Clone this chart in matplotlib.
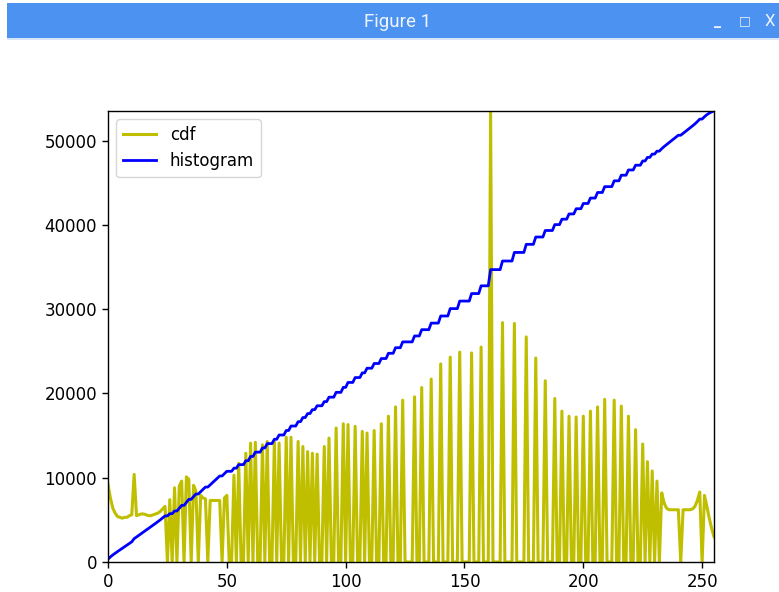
import numpy as np
import matplotlib.pyplot as plt
from matplotlib.patches import Rectangle

# grey level counts
head_counts = [9200, 7600, 6400, 5800, 5400, 5300, 5200, 5300, 5300, 5500,
               5600, 10400, 5500, 5600, 5700, 5700, 5600, 5500, 5500, 5600,
               5700, 5800, 6000, 6300, 6600]  # levels 0..24

spike_levels = [26, 28, 30, 31, 33, 34, 36, 37, 39, 40, 41, 43, 44, 45, 46, 47,
                49, 50, 53, 55, 58, 60, 62, 65, 67, 70, 72, 75, 77, 80, 82, 84,
                86, 88, 91, 93, 96, 99, 101, 104, 107, 109, 112, 115, 118, 121,
                124, 129, 132, 136, 140, 144, 148, 153, 157, 161, 166, 171, 176,
                180, 184, 188, 191, 194, 197, 200, 203, 206, 209, 213, 216, 219,
                222, 225, 227, 229, 231]
spike_counts = [7400, 8800, 9000, 9600, 10100, 9800, 9100, 8400, 7900, 7600,
                7500, 7300, 7300, 7300, 7300, 7300, 7600, 7900, 10300, 11700,
                12900, 14100, 14200, 13900, 14300, 14300, 14100, 14800, 14800,
                14300, 13700, 13100, 12900, 12800, 13700, 14700, 15900, 16400,
                16300, 16100, 15500, 15300, 15600, 16400, 17300, 18400, 19200,
                19600, 20700, 21700, 23500, 24300, 24900, 24800, 25500, 53500,
                28400, 28300, 26700, 24200, 21500, 19400, 17900, 17300, 17200,
                17300, 17900, 18400, 19300, 19200, 18500, 17300, 15700, 14000,
                11900, 10800, 9600]

tail_counts = [8200, 7000, 6400, 6200, 6200, 6200, 6200, 6200, 0, 6200, 6200,
               6200, 6200, 6300, 6600, 7300, 8300, 0, 7900, 6600, 5200, 4000,
               3000]  # levels 233..255

legend_labels = ["cdf", "histogram"]

hist = np.zeros(256)
hist[:len(head_counts)] = head_counts
hist[spike_levels] = spike_counts
hist[256 - len(tail_counts):] = tail_counts

cdf = hist.cumsum()
cdf_normalized = cdf * hist.max() / cdf.max()

fig = plt.figure(figsize=(7.79, 5.92), dpi=100)
fig.patch.set_facecolor("white")

# window title bar of the screenshot
fig.add_artist(Rectangle((7 / 779, 1 - 38 / 592), 1, 35 / 592,
                         transform=fig.transFigure, color="#4c92f0", lw=0))
fig.add_artist(Rectangle((7 / 779, 1 - 40 / 592), 1, 2 / 592,
                         transform=fig.transFigure, color="#d8e6fb", lw=0))
fig.text(398 / 779, 1 - 22 / 592, "Figure 1", ha="center", va="center",
         color="#eef4fe", fontsize=13.5, family="Roboto")
fig.text(717 / 779, 1 - 21 / 592, "_", ha="center", va="center",
         color="#eef4fe", fontsize=10, fontweight="bold")
fig.text(745 / 779, 1 - 21 / 592, "\u25a1", ha="center", va="center",
         color="#eef4fe", fontsize=9, fontweight="bold")
fig.text(770 / 779, 1 - 21 / 592, "X", ha="center", va="center",
         color="#eef4fe", fontsize=12, family="Roboto")

ax = fig.add_axes([108 / 779, 1 - 562 / 592, 606 / 779, 451 / 592])
ax.plot(hist, color="y", lw=2.2)
ax.plot(cdf_normalized, color="b", lw=2.0)
ax.set_xlim(0, 255)
ax.set_ylim(0, hist.max())
ax.legend(legend_labels, loc="upper left", fontsize=12)
ax.tick_params(labelsize=12, length=4.3, width=1)
for spine in ax.spines.values():
    spine.set_linewidth(1)

fig.savefig("out.png", dpi=100)
